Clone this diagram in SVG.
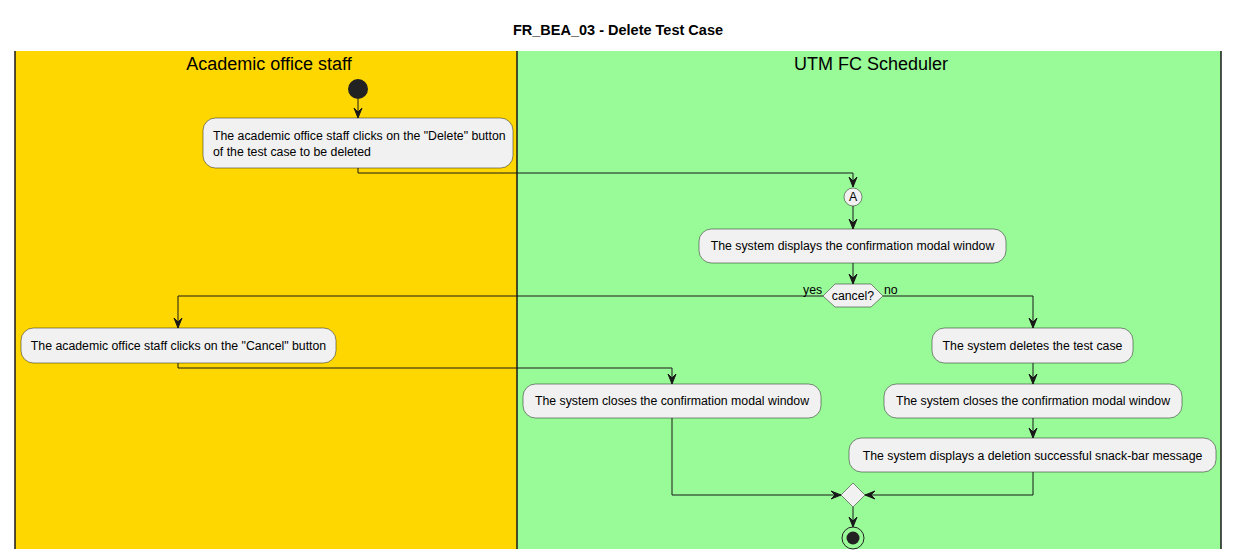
<svg xmlns="http://www.w3.org/2000/svg" width="1239" height="560" viewBox="0 0 1239 560">
<defs>
<style>
.act{fill:#F1F1F1;stroke:#181818;stroke-width:0.5}
.t{font-family:"Liberation Sans",Arial,sans-serif;font-size:12.3px;fill:#000}
.tc{text-anchor:middle}
.lane{font-family:"Liberation Sans",Arial,sans-serif;font-size:18px;fill:#000;text-anchor:middle}
.ln{fill:none;stroke:#181818;stroke-width:1}
.ah{fill:#181818;stroke:#181818;stroke-width:1}
</style>
</defs>
<rect width="1239" height="560" fill="#FFFFFF"/>
<text x="618" y="35" font-family="'Liberation Sans',Arial,sans-serif" font-size="14.5" font-weight="bold" text-anchor="middle">FR_BEA_03 - Delete Test Case</text>
<g id="lanes">
<rect x="15" y="51" width="502" height="498" fill="#FFD700"/>
<rect x="517" y="51" width="704" height="498" fill="#98FB98"/>
<line x1="15" y1="51" x2="15" y2="549" stroke="#181818" stroke-width="1.5"/>
<line x1="517" y1="51" x2="517" y2="549" stroke="#181818" stroke-width="1.5"/>
<line x1="1221" y1="51" x2="1221" y2="549" stroke="#181818" stroke-width="1.5"/>
<text class="lane" x="269" y="70">Academic office staff</text>
<text class="lane" x="871" y="70">UTM FC Scheduler</text>
</g>
<g id="connectors">
<path class="ln" d="M358,99 L358,118"/>
<polygon class="ah" points="354,108 358,118 362,108 358,112"/>
<path class="ln" d="M358,168 L358,173 L853,173 L853,187"/>
<polygon class="ah" points="849,177 853,187 857,177 853,181"/>
<path class="ln" d="M853,206 L853,229"/>
<polygon class="ah" points="849,219 853,229 857,219 853,223"/>
<path class="ln" d="M853,263 L853,284"/>
<polygon class="ah" points="849,274 853,284 857,274 853,278"/>
<path class="ln" d="M823,296 L178,296 L178,328"/>
<polygon class="ah" points="174,318 178,328 182,318 178,322"/>
<path class="ln" d="M883,296 L1033,296 L1033,328"/>
<polygon class="ah" points="1029,318 1033,328 1037,318 1033,322"/>
<path class="ln" d="M178,363 L178,368 L672,368 L672,384"/>
<polygon class="ah" points="668,374 672,384 676,374 672,378"/>
<path class="ln" d="M1033,363 L1033,384"/>
<polygon class="ah" points="1029,374 1033,384 1037,374 1033,378"/>
<path class="ln" d="M1033,418 L1033,438"/>
<polygon class="ah" points="1029,428 1033,438 1037,428 1033,432"/>
<path class="ln" d="M672,418 L672,495 L841,495"/>
<polygon class="ah" points="831,491 841,495 831,499 835,495"/>
<path class="ln" d="M1033,472 L1033,495 L865,495"/>
<polygon class="ah" points="875,491 865,495 875,499 871,495"/>
<path class="ln" d="M853,507 L853,527"/>
<polygon class="ah" points="849,517 853,527 857,517 853,521"/>
<text class="t" x="803" y="294" font-size="11">yes</text>
<text class="t" x="884" y="294" font-size="11">no</text>
</g>
<g id="start"><circle cx="358" cy="89" r="10" fill="#222222"/></g>
<g id="act-delete-click">
<rect class="act" x="203" y="118" width="310" height="50" rx="12.5"/>
<text class="t" x="213" y="140">The academic office staff clicks on the "Delete" button</text>
<text class="t" x="213" y="156">of the test case to be deleted</text>
</g>
<g id="connector-A">
<circle cx="853" cy="197" r="9" fill="#F1F1F1" stroke="#181818" stroke-width="0.5"/>
<text class="t tc" x="853" y="201" font-size="10">A</text>
</g>
<g id="act-display-modal">
<rect class="act" x="699" y="229" width="307" height="34" rx="12.5"/>
<text class="t tc" x="852.5" y="250">The system displays the confirmation modal window</text>
</g>
<g id="decision-cancel">
<polygon class="act" points="823,296 835,284 871,284 883,296 871,307 835,307"/>
<text class="t tc" x="853" y="300" font-size="11">cancel?</text>
</g>
<g id="act-cancel-click">
<rect class="act" x="21" y="328" width="315" height="35" rx="12.5"/>
<text class="t tc" x="178.5" y="350">The academic office staff clicks on the "Cancel" button</text>
</g>
<g id="act-close-left">
<rect class="act" x="523" y="384" width="298" height="34" rx="12.5"/>
<text class="t tc" x="672" y="405">The system closes the confirmation modal window</text>
</g>
<g id="act-deletes">
<rect class="act" x="932" y="328" width="201" height="35" rx="12.5"/>
<text class="t tc" x="1032.5" y="350">The system deletes the test case</text>
</g>
<g id="act-close-right">
<rect class="act" x="884" y="384" width="298" height="34" rx="12.5"/>
<text class="t tc" x="1033" y="405">The system closes the confirmation modal window</text>
</g>
<g id="act-snackbar">
<rect class="act" x="849" y="438" width="367" height="34" rx="12.5"/>
<text class="t tc" x="1032.5" y="460">The system displays a deletion successful snack-bar message</text>
</g>
<g id="merge">
<polygon class="act" points="853,483 865,495 853,507 841,495"/>
</g>
<g id="end">
<circle cx="853" cy="538" r="11" fill="none" stroke="#222222" stroke-width="1"/>
<circle cx="853" cy="538" r="6.5" fill="#222222"/>
</g>
</svg>
